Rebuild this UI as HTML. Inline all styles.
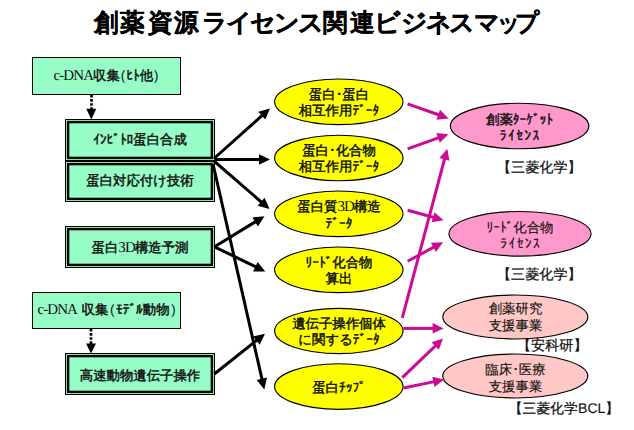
<!DOCTYPE html>
<html lang="ja">
<head>
<meta charset="utf-8">
<title>創薬資源ライセンス関連ビジネスマップ</title>
<style>
html,body{margin:0;padding:0;background:#fff;}
body{width:634px;height:430px;position:relative;overflow:hidden;font-family:"Liberation Sans",sans-serif;color:#111;}
svg{position:absolute;left:0;top:0;}
.t{text-rendering:geometricPrecision;position:absolute;white-space:nowrap;text-align:center;font-weight:normal;-webkit-text-stroke:0.45px #111;font-size:13.4px;line-height:16.4px;}
.lt{-webkit-text-stroke:0.15px #111;}
.w{letter-spacing:1.5px;margin-right:-1.5px;}
.title{-webkit-text-stroke:0.3px #000;position:absolute;left:0;top:5.7px;width:634px;height:34px;font-weight:bold;font-size:24.6px;line-height:34px;color:#000;}
.title span{position:absolute;top:0;width:40px;text-align:center;}
.s{font-family:"Liberation Serif",serif;font-weight:normal;-webkit-text-stroke:0;font-size:15px;letter-spacing:-0.9px;}
.p{font-weight:normal;-webkit-text-stroke:0;margin:0 1px;}
.lab{text-rendering:geometricPrecision;position:absolute;white-space:nowrap;font-size:14.1px;line-height:16px;font-weight:normal;color:#111;-webkit-text-stroke:0.25px #111;}
.b{font-size:14px;margin-left:0.4px;-webkit-text-stroke:0.15px #111;}
</style>
</head>
<body>
<svg width="634" height="430" viewBox="0 0 634 430">
  <g fill="#96fdc6" stroke="#000" stroke-width="1">
    <rect x="32.5" y="57.5" width="148" height="37"/>
    <rect x="32.5" y="292.5" width="148" height="36"/>
  </g>
  <g fill="#96fdc6" stroke="#000">
    <rect x="65.5" y="119.5" width="149.0" height="41.0" stroke-width="1"/><rect x="68.1" y="122.1" width="143.8" height="35.8" stroke-width="2.4"/>
    <rect x="65.5" y="161.5" width="149.0" height="40.0" stroke-width="1"/><rect x="68.1" y="164.1" width="143.8" height="34.8" stroke-width="2.4"/>
    <rect x="65.5" y="226.5" width="149.0" height="41.0" stroke-width="1"/><rect x="68.1" y="229.1" width="143.8" height="35.8" stroke-width="2.4"/>
    <rect x="65.5" y="353.5" width="149.0" height="41.0" stroke-width="1"/><rect x="68.1" y="356.1" width="143.8" height="35.8" stroke-width="2.4"/>
  </g>
  <g stroke="#000" stroke-width="2.6" stroke-dasharray="2.6 1.5" fill="none">
    <line x1="91.5" y1="95" x2="91.5" y2="110"/>
    <line x1="91" y1="329" x2="91" y2="345"/>
  </g>
  <path d="M86.3,108.7 L96.3,108.7 L91.3,119.5 Z" fill="#000"/>
  <path d="M86,343.5 L96,343.5 L91,353.5 Z" fill="#000"/>
  <g fill="#ffff00" stroke="#000" stroke-width="1.15">
    <ellipse cx="338.8" cy="101.8" rx="64.2" ry="22.8"/>
    <ellipse cx="338.8" cy="158" rx="64.2" ry="22.8"/>
    <ellipse cx="338.8" cy="213.8" rx="64.2" ry="22.8"/>
    <ellipse cx="338.8" cy="269.8" rx="64.2" ry="22.8"/>
    <ellipse cx="338.8" cy="331" rx="64.2" ry="22.6"/>
    <ellipse cx="338.8" cy="386.5" rx="64.2" ry="22.8"/>
  </g>
  <g fill="#ff99cc" stroke="#000" stroke-width="1.15">
    <ellipse cx="519.6" cy="126" rx="69.2" ry="22.8"/>
    <ellipse cx="520" cy="233.8" rx="71" ry="22.3"/>
  </g>
  <g fill="#ffc8c6" stroke="#000" stroke-width="1.15">
    <ellipse cx="515.3" cy="317" rx="72.5" ry="22"/>
    <ellipse cx="515.3" cy="376" rx="72.5" ry="22"/>
  </g>
  <g><line x1="214.0" y1="158.5" x2="262.5" y2="115.1" stroke="#000" stroke-width="3.0"/><polygon points="270.0,108.4 265.3,119.6 258.3,111.8" fill="#000"/><line x1="214.0" y1="159.5" x2="260.0" y2="159.5" stroke="#000" stroke-width="3.0"/><polygon points="270.0,159.5 259.0,164.8 259.0,154.2" fill="#000"/><line x1="214.0" y1="161.0" x2="261.9" y2="202.5" stroke="#000" stroke-width="3.0"/><polygon points="269.5,209.0 257.7,205.8 264.6,197.8" fill="#000"/><line x1="213.0" y1="164.0" x2="262.1" y2="379.7" stroke="#000" stroke-width="3.0"/><polygon points="264.3,389.5 256.7,379.9 267.0,377.6" fill="#000"/><line x1="214.5" y1="246.8" x2="256.0" y2="221.4" stroke="#000" stroke-width="3.0"/><polygon points="264.5,216.2 257.9,226.4 252.4,217.5" fill="#000"/><line x1="214.5" y1="246.8" x2="256.3" y2="267.1" stroke="#000" stroke-width="3.0"/><polygon points="265.3,271.5 253.1,271.4 257.7,262.0" fill="#000"/><line x1="214.3" y1="374.0" x2="257.2" y2="339.9" stroke="#000" stroke-width="3.0"/><polygon points="265.0,333.7 259.7,344.7 253.1,336.4" fill="#000"/></g>
  <g><line x1="407.6" y1="103.8" x2="439.2" y2="115.0" stroke="#cc0a94" stroke-width="3.0"/><polygon points="448.6,118.4 436.5,119.7 440.0,109.8" fill="#cc0a94"/><line x1="407.6" y1="148.8" x2="439.0" y2="137.6" stroke="#cc0a94" stroke-width="3.0"/><polygon points="448.4,134.2 439.8,142.8 436.3,133.0" fill="#cc0a94"/><line x1="402.3" y1="317.8" x2="444.7" y2="158.5" stroke="#cc0a94" stroke-width="3.0"/><polygon points="447.3,148.8 449.5,160.8 439.4,158.1" fill="#cc0a94"/><line x1="407.6" y1="210.2" x2="434.0" y2="217.5" stroke="#cc0a94" stroke-width="3.0"/><polygon points="443.6,220.2 431.6,222.3 434.4,212.2" fill="#cc0a94"/><line x1="407.6" y1="261.3" x2="434.3" y2="246.9" stroke="#cc0a94" stroke-width="3.0"/><polygon points="443.1,242.2 435.9,252.0 430.9,242.8" fill="#cc0a94"/><line x1="403.4" y1="328.4" x2="433.6" y2="328.4" stroke="#cc0a94" stroke-width="3.0"/><polygon points="443.6,328.4 432.6,333.6 432.6,323.1" fill="#cc0a94"/><line x1="402.3" y1="377.6" x2="435.9" y2="345.3" stroke="#cc0a94" stroke-width="3.0"/><polygon points="443.1,338.4 438.8,349.8 431.5,342.2" fill="#cc0a94"/><line x1="403.4" y1="388.0" x2="434.4" y2="381.6" stroke="#cc0a94" stroke-width="3.0"/><polygon points="444.2,379.6 434.5,387.0 432.4,376.7" fill="#cc0a94"/></g>
</svg>

<div class="title"><span style="left:86.3px;transform:scaleX(0.98)">創</span><span style="left:112.2px;transform:scaleX(0.98)">薬</span><span style="left:139.6px;transform:scaleX(0.98)">資</span><span style="left:165.9px;transform:scaleX(0.98)">源</span><span style="left:194.5px;transform:scaleX(1.00)">ラ</span><span style="left:218.6px;transform:scaleX(1.02)">イ</span><span style="left:242.5px;transform:scaleX(1.00)">セ</span><span style="left:267.3px;transform:scaleX(1.00)">ン</span><span style="left:290.9px;transform:scaleX(1.00)">ス</span><span style="left:314.9px;transform:scaleX(0.98)">関</span><span style="left:341.5px;transform:scaleX(0.98)">連</span><span style="left:368.4px;transform:scaleX(1.04)">ビ</span><span style="left:393.8px;transform:scaleX(1.03)">ジ</span><span style="left:419.1px;transform:scaleX(1.00)">ネ</span><span style="left:442.4px;transform:scaleX(1.00)">ス</span><span style="left:466.7px;transform:scaleX(1.00)">マ</span><span style="left:488.7px;transform:scaleX(0.90)">ッ</span><span style="left:506.6px;transform:scaleX(0.95)">プ</span></div>

<div class="t" style="left:32px;top:68.0px;width:149px;"><span class="s">c-DNA</span>収集<span class="p">(</span>ﾋﾄ他<span class="p">)</span></div>
<div class="t" style="left:65px;top:132.0px;width:150px;">ｲﾝﾋﾞﾄﾛ蛋白合成</div>
<div class="t" style="left:65px;top:173.3px;width:150px;">蛋白対応付け技術</div>
<div class="t" style="left:65px;top:240.4px;width:150px;">蛋白<span class="s">3D</span>構造予測</div>
<div class="t" style="left:32px;top:302.3px;width:149px;"><span class="s" style="margin-right:2.5px">c-DNA </span>収集<span class="p" style="margin:0 1.6px">(</span>ﾓﾃﾞﾙ動物<span class="p" style="margin:0 0 0 1.6px">)</span></div>
<div class="t" style="left:65px;top:368.4px;width:150px;">高速動物遺伝子操作</div>

<div class="t" style="left:274px;top:86.6px;width:130px;">蛋白･蛋白<br>相互作用ﾃﾞｰﾀ</div>
<div class="t" style="left:274px;top:143.0px;width:130px;">蛋白･化合物<br>相互作用ﾃﾞｰﾀ</div>
<div class="t" style="left:274px;top:199.3px;width:130px;">蛋白質<span class="s">3D</span>構造<br>ﾃﾞｰﾀ</div>
<div class="t" style="left:274px;top:255.0px;width:130px;">ﾘｰﾄﾞ化合物<br>算出</div>
<div class="t" style="left:274px;top:315.7px;width:130px;">遺伝子操作個体<br>に関するﾃﾞｰﾀ</div>
<div class="t" style="left:274px;top:380.1px;width:130px;">蛋白ﾁｯﾌﾟ</div>

<div class="t" style="left:450px;top:111.6px;width:139px;">創薬ﾀｰｹﾞｯﾄ<br><span class="w">ﾗｲｾﾝｽ</span></div>
<div class="t lt" style="left:449px;top:219.8px;width:142px;">ﾘｰﾄﾞ化合物<br><span class="w">ﾗｲｾﾝｽ</span></div>
<div class="t lt" style="left:443px;top:301.2px;width:145px;">創薬研究<br>支援事業</div>
<div class="t lt" style="left:443px;top:362.2px;width:145px;">臨床･医療<br>支援事業</div>

<div class="lab" style="left:497px;top:158.5px;">【三菱化学】</div>
<div class="lab" style="left:497px;top:266px;">【三菱化学】</div>
<div class="lab" style="left:517px;top:336.5px;">【安科研】</div>
<div class="lab" style="left:508.7px;top:399.5px;font-size:13.8px">【三菱化学<span class="b">BCL</span>】</div>
</body>
</html>
